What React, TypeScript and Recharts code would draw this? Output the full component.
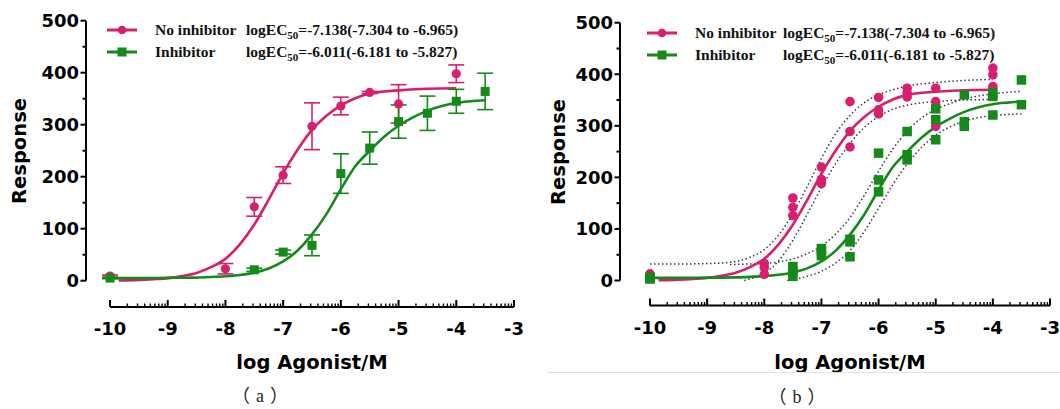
import React from 'react';
import { ComposedChart, Line, Scatter, XAxis, YAxis, ErrorBar, ReferenceLine, Legend } from 'recharts';

// ---------- colours & fonts ----------
const MAGENTA = '#d81f6e';
const GREEN = '#15891a';
const BAND = '#3a3a3a';
const SANS = "'DejaVu Sans', 'Liberation Sans', sans-serif";
const SERIF = "'Liberation Serif', 'Times New Roman', serif";
const CJK = "'Noto Sans CJK SC', sans-serif";

// ---------- axis / text ----------
const xMajorTicks = [-10, -9, -8, -7, -6, -5, -4, -3];
const yTickValues = [0, 50, 100, 150, 200, 250, 300, 350, 400, 450, 500];
const seriesNames = ['No inhibitor', 'Inhibitor'];
const ec50Texts = ['=-7.138(-7.304 to -6.965)', '=-6.011(-6.181 to -5.827)'];
const panelCaptions = ['（a）', '（b）'];
const xTitle = 'log Agonist/M';
const yTitle = 'Response';

// ---------- panel (a): means ± error ----------
const doseNoInhA = [-10, -8, -7.5, -7, -6.5, -6, -5.5, -5, -4];
const meanNoInhA = [9, 23, 142, 203, 297, 336, 362, 340, 398];
const errNoInhA = [2, 10, 18, 16, 45, 17, 2, 37, 17];
const doseInhA = [-10, -7.5, -7, -6.5, -6, -5.5, -5, -4.5, -4, -3.5];
const meanInhA = [5, 21, 55, 68, 206, 255, 306, 322, 345, 364];
const errInhA = [1, 3, 4, 20, 38, 31, 32, 33, 23, 35];

// ---------- fitted curves ----------
const curveDoseNoInh = [-9.85, -9.5, -9.25, -9, -8.75, -8.5, -8.25, -8, -7.75, -7.5, -7.25, -7, -6.75, -6.5, -6.25, -6, -5.75, -5.5, -5.25, -5, -4.5, -4];
const curveRespNoInh = [0.5, 1.5, 3, 5, 9, 15, 26, 42, 70, 108, 156, 207, 252, 290, 317, 337, 351, 360, 364, 366, 369, 370];
const curveDoseInh = [-10, -9.5, -9, -8.5, -8.25, -8, -7.75, -7.5, -7.25, -7, -6.75, -6.5, -6.25, -6, -5.75, -5.5, -5.25, -5, -4.75, -4.5, -4.25, -4, -3.75, -3.5];
const curveRespInh = [5, 5, 5.5, 6, 7, 8.5, 11, 15.5, 23.5, 37, 58, 89, 128, 176, 220, 250, 277, 298, 314, 327, 336, 342, 345, 347];

// ---------- panel (b): replicates ----------
const repDoseNoInh = [-10, -10, -10, -8, -8, -8, -7.5, -7.5, -7.5, -7, -7, -7, -6.5, -6.5, -6.5, -6, -6, -6, -5.5, -5.5, -5.5, -5, -5, -5, -4, -4, -4];
const repRespNoInh = [5, 9, 13, 12, 25, 33, 126, 142, 160, 188, 196, 220, 259, 289, 347, 323, 331, 355, 356, 364, 373, 299, 347, 373, 376, 399, 412];
const repDoseInh = [-10, -10, -10, -7.5, -7.5, -7.5, -7, -7, -7, -6.5, -6.5, -6.5, -6, -6, -6, -5.5, -5.5, -5.5, -5, -5, -5, -4.5, -4.5, -4.5, -4, -4, -4, -3.5, -3.5];
const repRespInh = [3, 4, 6, 8, 18, 27, 48, 55, 62, 46, 75, 80, 172, 195, 247, 234, 244, 289, 273, 312, 333, 299, 308, 360, 321, 357, 364, 341, 389];

// ---------- panel (b): confidence bands ----------
const bandDoseNoInhUp = [-10, -9.5, -9, -8.75, -8.5, -8.25, -8, -7.75, -7.5, -7.25, -7, -6.75, -6.5, -6.25, -6, -5.75, -5.5, -5, -4.5, -4];
const bandNoInhUp = [32, 32, 33, 34, 37, 45, 60, 88, 130, 182, 237, 285, 320, 345, 360, 370, 377, 384, 388, 390];
const bandDoseNoInhLo = [-8.35, -8.25, -8, -7.75, -7.5, -7.25, -7, -6.75, -6.5, -6.25, -6, -5.75, -5.5, -5, -4.5, -4];
const bandNoInhLo = [0, 3, 14, 38, 78, 128, 180, 227, 266, 297, 318, 332, 340, 347, 350, 351];
const bandDoseInhUp = [-8.6, -8.25, -8, -7.75, -7.5, -7.25, -7, -6.75, -6.5, -6.25, -6, -5.75, -5.5, -5.25, -5, -4.75, -4.5, -4.25, -4, -3.75, -3.5];
const bandInhUp = [31, 32, 33, 36, 42, 52, 67, 90, 122, 165, 212, 255, 290, 315, 332, 343, 352, 358, 362, 365, 367];
const bandDoseInhLo = [-7.6, -7.5, -7.25, -7, -6.75, -6.5, -6.25, -6, -5.75, -5.5, -5.25, -5, -4.75, -4.5, -4.25, -4, -3.75, -3.5];
const bandInhLo = [0, 2, 8, 18, 34, 58, 95, 140, 186, 226, 258, 282, 298, 309, 316, 320, 322, 323];

// ---------- helpers ----------
const pts = (xs: number[], ys: number[], es?: number[]) =>
  xs.map((x, i) => (es ? { x, y: ys[i], e: es[i] } : { x, y: ys[i] }));

const logFactors = [2, 3, 4, 5, 6, 7, 8, 9];
const xAllTicks = [
  ...xMajorTicks,
  ...xMajorTicks.slice(0, -1).flatMap((d) => logFactors.map((k) => d + Math.log10(k))),
].sort((a, b) => a - b);

const isMajor = (v: number) => Math.abs(v - Math.round(v)) < 1e-6;

const XTick = (props: any) => {
  const { x, y, payload } = props;
  const v = payload.value as number;
  const major = isMajor(v);
  return (
    <g>
      <line x1={x} x2={x} y1={y} y2={y - (major ? 7 : 3.5)} stroke="#000" strokeWidth={major ? 2 : 1.4} />
      {major && (
        <text x={x} y={y + 28} textAnchor="middle" fontFamily={SANS} fontWeight="bold" fontSize={18} fill="#000">
          {String(Math.round(v))}
        </text>
      )}
    </g>
  );
};

const YTick = (props: any) => {
  const { x, y, payload } = props;
  const v = payload.value as number;
  const major = v % 100 === 0;
  return (
    <g>
      <line x1={x} x2={x - (major ? 5.5 : 3.5)} y1={y} y2={y} stroke="#000" strokeWidth={2} />
      {major && (
        <text x={x - 7} y={y + 6.5} textAnchor="end" fontFamily={SANS} fontWeight="bold" fontSize={18} fill="#000">
          {String(v)}
        </text>
      )}
    </g>
  );
};

const circleShape = (r: number) => (p: any) => <circle cx={p.cx} cy={p.cy} r={r} fill={MAGENTA} />;
const squareShape = (s: number) => (p: any) => (
  <rect x={p.cx - s / 2} y={p.cy - s / 2} width={s} height={s} fill={GREEN} />
);

type Geo = {
  x10: number; x3: number; yAxisX: number; yTop: number; y0: number; xAxisY: number;
  legendLeft: number; legendTop: number; ecOffset: number; yTitleX: number; yTitleY: number;
};

const LegendBox = ({ ecOffset }: { ecOffset: number }) => (
  <svg width={440} height={50} style={{ display: 'block', overflow: 'visible' }}>
    {seriesNames.map((name, i) => {
      const cy = 15 + i * 22;
      const c = i === 0 ? MAGENTA : GREEN;
      return (
        <g key={name}>
          <line x1={7} x2={37} y1={cy} y2={cy} stroke={c} strokeWidth={3} />
          {i === 0 ? (
            <circle cx={22} cy={cy} r={4.3} fill={c} />
          ) : (
            <rect x={17.5} y={cy - 4.5} width={9} height={9} fill={c} />
          )}
          <text x={55} y={cy + 5} fontFamily={SERIF} fontWeight="bold" fontSize={15.5} fill="#111">
            {name}
          </text>
          <text x={ecOffset} y={cy + 5} fontFamily={SERIF} fontWeight="bold" fontSize={15.5} fill="#111">
            logEC
            <tspan fontSize={11} dy={4}>50</tspan>
            <tspan dy={-4}>{ec50Texts[i]}</tspan>
          </text>
        </g>
      );
    })}
  </svg>
);

function Panel({ geo, replicate }: { geo: Geo; replicate: boolean }) {
  const W = 530;
  const H = 409;
  const ppx = (geo.x3 - geo.x10) / 7;
  const xMin = -10 - (geo.x10 - geo.yAxisX) / ppx;
  const ppy = (geo.y0 - geo.yTop) / 500;
  const yMin = -(geo.xAxisY - geo.y0) / ppy;

  const curveNo = pts(curveDoseNoInh, curveRespNoInh);
  const curveIn = pts(curveDoseInh, curveRespInh);

  return (
    <ComposedChart width={W} height={H} margin={{ top: geo.yTop, right: W - geo.x3, bottom: 0, left: 0 }}>
      <XAxis
        dataKey="x"
        type="number"
        domain={[xMin, -3]}
        allowDataOverflow
        ticks={xAllTicks}
        interval={0}
        tick={(p: any) => <XTick {...p} />}
        tickLine={false}
        tickSize={0}
        tickMargin={0}
        axisLine={false}
        height={H - geo.xAxisY}
        label={{
          content: () => (
            <text
              x={(geo.x10 + geo.x3) / 2}
              y={369}
              textAnchor="middle"
              fontFamily={SANS}
              fontWeight="bold"
              fontSize={19.5}
              fill="#000"
            >
              {xTitle}
            </text>
          ),
        }}
      />
      <YAxis
        dataKey="y"
        type="number"
        domain={[yMin, 500]}
        allowDataOverflow
        ticks={yTickValues}
        interval={0}
        tick={(p: any) => <YTick {...p} />}
        tickLine={false}
        tickSize={0}
        tickMargin={0}
        axisLine={false}
        width={geo.yAxisX}
        label={{
          content: () => (
            <text
              x={geo.yTitleX}
              y={geo.yTitleY}
              transform={`rotate(-90, ${geo.yTitleX}, ${geo.yTitleY})`}
              textAnchor="middle"
              dominantBaseline="central"
              fontFamily={SANS}
              fontWeight="bold"
              fontSize={19.5}
              fill="#000"
            >
              {yTitle}
            </text>
          ),
        }}
      />
      <ReferenceLine segment={[{ x: -10, y: yMin }, { x: -3, y: yMin }]} stroke="#000" strokeWidth={2.2} ifOverflow="visible" />
      <ReferenceLine segment={[{ x: xMin, y: 0 }, { x: xMin, y: 500 }]} stroke="#000" strokeWidth={2} ifOverflow="visible" />

      {replicate && (
        <Line data={pts(bandDoseNoInhUp, bandNoInhUp)} dataKey="y" type="monotone" stroke={BAND} strokeWidth={1.5} strokeDasharray="1.5 2.5" dot={false} isAnimationActive={false} legendType="none" />
      )}
      {replicate && (
        <Line data={pts(bandDoseNoInhLo, bandNoInhLo)} dataKey="y" type="monotone" stroke={BAND} strokeWidth={1.5} strokeDasharray="1.5 2.5" dot={false} isAnimationActive={false} legendType="none" />
      )}
      {replicate && (
        <Line data={pts(bandDoseInhUp, bandInhUp)} dataKey="y" type="monotone" stroke={BAND} strokeWidth={1.5} strokeDasharray="1.5 2.5" dot={false} isAnimationActive={false} legendType="none" />
      )}
      {replicate && (
        <Line data={pts(bandDoseInhLo, bandInhLo)} dataKey="y" type="monotone" stroke={BAND} strokeWidth={1.5} strokeDasharray="1.5 2.5" dot={false} isAnimationActive={false} legendType="none" />
      )}

      <Line data={curveNo} dataKey="y" name={seriesNames[0]} type="monotone" stroke={MAGENTA} strokeWidth={2.6} dot={false} isAnimationActive={false} />
      <Line data={curveIn} dataKey="y" name={seriesNames[1]} type="monotone" stroke={GREEN} strokeWidth={2.6} dot={false} isAnimationActive={false} />

      {!replicate && (
        <Scatter data={pts(doseNoInhA, meanNoInhA, errNoInhA)} dataKey="y" shape={circleShape(4.6)} isAnimationActive={false} legendType="none">
          <ErrorBar dataKey="e" direction="y" width={8} stroke={MAGENTA} strokeWidth={1.6} />
        </Scatter>
      )}
      {!replicate && (
        <Scatter data={pts(doseInhA, meanInhA, errInhA)} dataKey="y" shape={squareShape(9)} isAnimationActive={false} legendType="none">
          <ErrorBar dataKey="e" direction="y" width={8} stroke={GREEN} strokeWidth={1.6} />
        </Scatter>
      )}
      {replicate && (
        <Scatter data={pts(repDoseNoInh, repRespNoInh)} dataKey="y" shape={circleShape(4.8)} isAnimationActive={false} legendType="none" />
      )}
      {replicate && (
        <Scatter data={pts(repDoseInh, repRespInh)} dataKey="y" shape={squareShape(9.5)} isAnimationActive={false} legendType="none" />
      )}

      <Legend
        verticalAlign="middle"
        align="center"
        layout="horizontal"
        wrapperStyle={{ position: 'absolute', left: geo.legendLeft, top: geo.legendTop, width: 440, height: 50, margin: 0, padding: 0 }}
        content={() => <LegendBox ecOffset={geo.ecOffset} />}
      />
    </ComposedChart>
  );
}

const geoA: Geo = {
  x10: 110, x3: 514, yAxisX: 86, yTop: 20.7, y0: 280.7, xAxisY: 307,
  legendLeft: 100, legendTop: 15, ecOffset: 146, yTitleX: 19, yTitleY: 151,
};
const geoB: Geo = {
  x10: 120, x3: 520, yAxisX: 90, yTop: 22.7, y0: 280.5, xAxisY: 305.5,
  legendLeft: 110, legendTop: 18, ecOffset: 143, yTitleX: 28, yTitleY: 152,
};

const Caption = ({ text, cx, cy }: { text: string; cx: number; cy: number }) => (
  <svg width={100} height={30} style={{ position: 'absolute', left: cx - 50, top: cy - 15, overflow: 'visible' }}>
    <text x={53} y={21} textAnchor="middle" fontSize={18} fill="#222" fontFamily={CJK} letterSpacing={6}>
      {text.split('').map((ch, i) => (
        <tspan key={i} fontFamily={/[（）]/.test(ch) ? CJK : SERIF}>{ch}</tspan>
      ))}
    </text>
  </svg>
);

export default function App() {
  return (
    <div style={{ position: 'absolute', left: 0, top: 0, width: 1060, height: 409, background: '#fff', overflow: 'hidden' }}>
      <div style={{ position: 'absolute', left: 0, top: 0 }}>
        <Panel geo={geoA} replicate={false} />
      </div>
      <div style={{ position: 'absolute', left: 530, top: 0 }}>
        <Panel geo={geoB} replicate={true} />
      </div>
      <div style={{ position: 'absolute', left: 547, top: 372, width: 513, height: 1, background: '#e4e4e4' }} />
      <Caption text={panelCaptions[0]} cx={260} cy={396} />
      <Caption text={panelCaptions[1]} cx={797} cy={397} />
    </div>
  );
}
